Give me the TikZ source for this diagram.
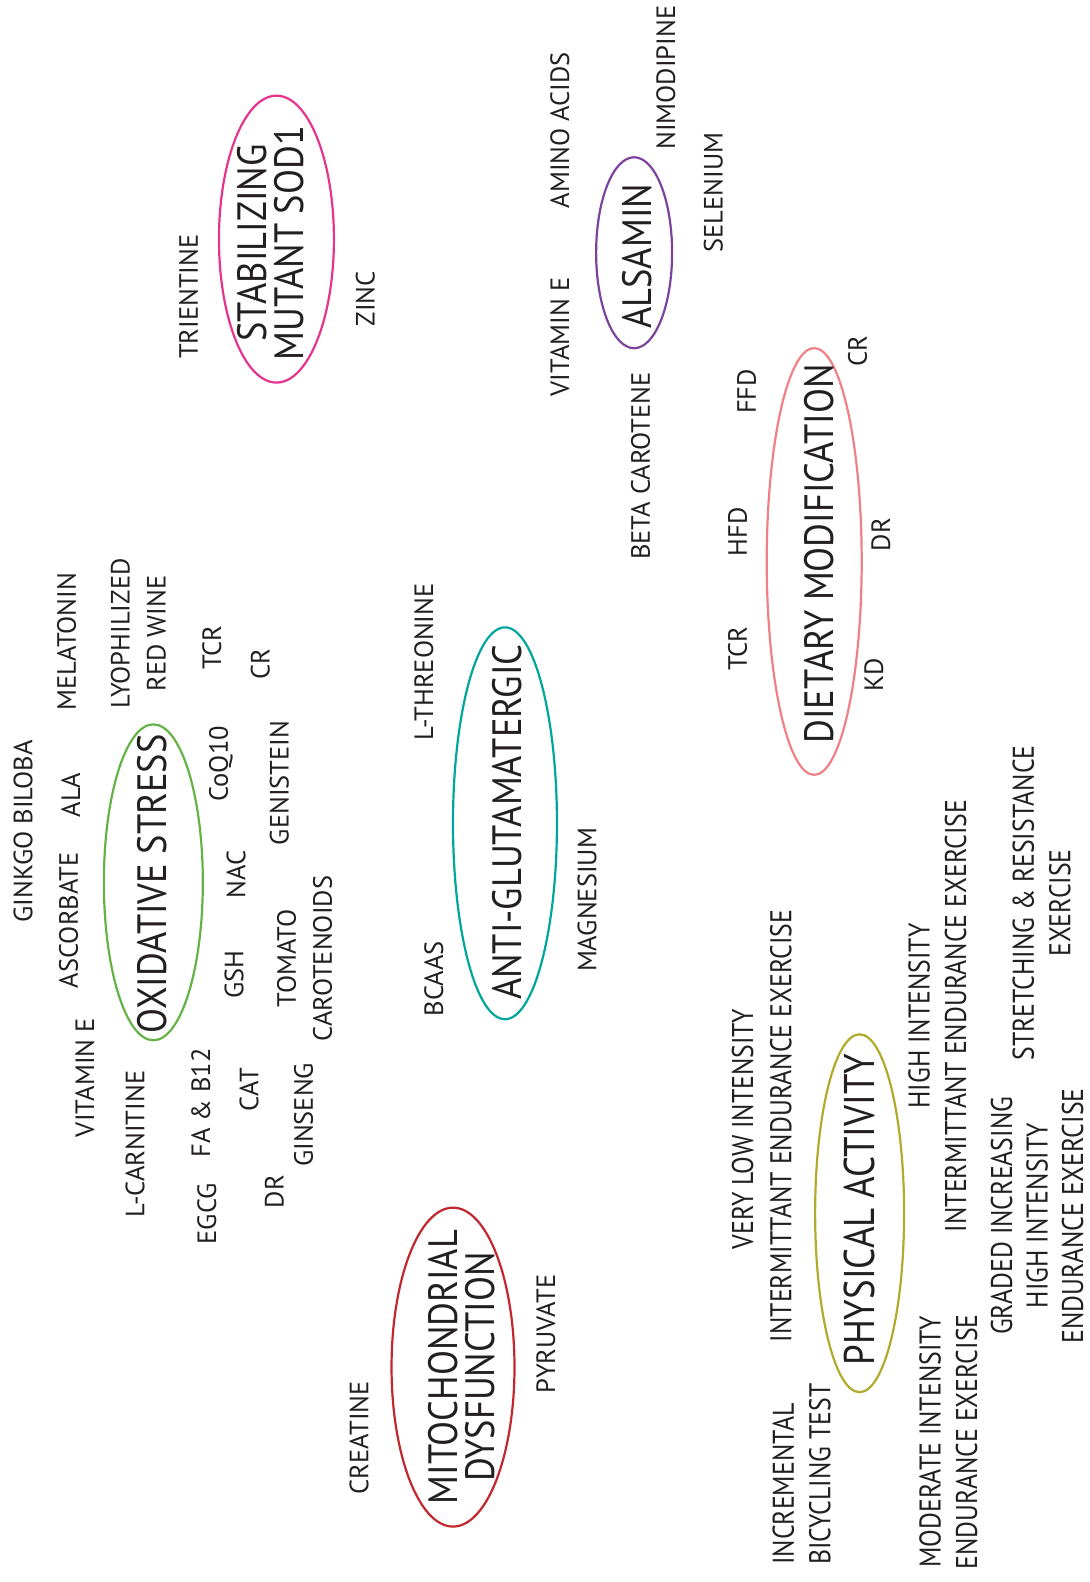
\documentclass[tikz,border=0pt]{standalone}
\usepackage{fontspec}
\setmainfont{PT Sans}
\newfontfamily\hubfont[FakeStretch=0.89]{PT Sans}
\newfontfamily\narrowfont[FakeStretch=0.86]{PT Sans}
\usetikzlibrary{shapes.geometric}
\definecolor{ink}{RGB}{35,31,32}
\definecolor{oxigreen}{RGB}{101,178,70}
\definecolor{mitored}{RGB}{193,39,45}
\definecolor{gluteal}{RGB}{0,166,156}
\definecolor{sodpink}{RGB}{229,52,143}
\definecolor{alspurple}{RGB}{124,66,157}
\definecolor{dietsalmon}{RGB}{240,128,134}
\definecolor{physolive}{RGB}{176,170,45}

\begin{document}
\begin{tikzpicture}[x=1.00926pt,y=-1.00926pt,
	lbl/.style={rotate=90,inner sep=0pt,text=ink,align=center,font=\fontsize{26.5}{36}\selectfont},
	hub/.style={rotate=90,inner sep=0pt,text=ink,align=center,font=\hubfont\fontsize{41}{37}\selectfont},
	plbl/.style={lbl,font=\narrowfont\fontsize{30}{36.5}\selectfont},
	phub/.style={hub,font=\narrowfont\fontsize{43}{40}\selectfont},
	ring/.style={ellipse,draw=#1,line width=2.2pt,inner sep=0pt}]
	\useasboundingbox (0,0) rectangle (1080,1568);

	\node[ring=oxigreen,minimum width=99pt,minimum height=316pt] (oxiring) at (152,874.5) {};
	\node[ring=mitored,minimum width=123pt,minimum height=319pt] (mitoring) at (449,1355) {};
	\node[ring=gluteal,minimum width=104pt,minimum height=392pt] (glutring) at (500.5,816) {};
	\node[ring=sodpink,minimum width=115pt,minimum height=287pt] (sodring) at (274,237) {};
	\node[ring=alspurple,minimum width=76pt,minimum height=191pt] (alsring) at (628.5,250.5) {};
	\node[ring=dietsalmon,minimum width=95pt,minimum height=427pt] (dietring) at (807,556.5) {};
	\node[ring=physolive,minimum width=89pt,minimum height=358pt] (physring) at (852,1202.5) {};

	\node[hub] (oxi) at (151,876) {OXIDATIVE STRESS};
	\node[hub] (mito) at (458,1355) {MITOCHONDRIAL\\DYSFUNCTION};
	\node[hub] (glut) at (502.5,815) {ANTI-GLUTAMATERGIC};
	\node[hub] (sod) at (268.5,241) {STABILIZING\\MUTANT SOD1};
	\node[hub] (als) at (631.5,254) {ALSAMIN};
	\node[hub] (diet) at (811.5,549) {DIETARY MODIFICATION};
	\node[phub] (phys) at (851.5,1199) {PHYSICAL ACTIVITY};

	\node[lbl] (ginkgo) at (23,824) {GINKGO BILOBA};
	\node[lbl] (ascorbate) at (68,912) {ASCORBATE};
	\node[lbl] (ala) at (70,788) {ALA};
	\node[lbl] (melatonin) at (66,636) {MELATONIN};
	\node[lbl] (redwine) at (137,628) {LYOPHILIZED\\RED WINE};
	\node[lbl] (tcrox) at (210,642) {TCR};
	\node[lbl] (crox) at (258,658) {CR};
	\node[lbl] (coq) at (219,757) {CoQ10};
	\node[lbl] (genistein) at (277,776) {GENISTEIN};
	\node[lbl] (nac) at (234,867) {NAC};
	\node[lbl] (gsh) at (232,966) {GSH};
	\node[lbl] (tomato) at (302,950) {TOMATO\\CAROTENOIDS};
	\node[lbl] (vitox) at (84,1068) {VITAMIN E};
	\node[lbl] (carnitine) at (134,1134) {L-CARNITINE};
	\node[lbl] (fab) at (199,1093) {FA \& B12};
	\node[lbl] (cat) at (247,1080) {CAT};
	\node[lbl] (egcg) at (205,1203) {EGCG};
	\node[lbl] (drox) at (272,1181) {DR};
	\node[lbl] (ginseng) at (301,1105) {GINSENG};

	\node[lbl] (creatine) at (356,1425) {CREATINE};
	\node[lbl] (pyruvate) at (541,1322) {PYRUVATE};

	\node[lbl] (threonine) at (420,656) {L-THREONINE};
	\node[lbl] (bcaas) at (430,970) {BCAAS};
	\node[lbl] (magnesium) at (582,892) {MAGNESIUM};

	\node[lbl] (trientine) at (187,294) {TRIENTINE};
	\node[lbl] (zinc) at (362,296) {ZINC};

	\node[lbl] (amino) at (555,129) {AMINO ACIDS};
	\node[lbl] (nimodipine) at (660,77) {NIMODIPINE};
	\node[lbl] (selenium) at (707,191) {SELENIUM};
	\node[lbl] (vitals) at (555,334) {VITAMIN E};
	\node[lbl] (betacar) at (635,462) {BETA CAROTENE};

	\node[lbl] (ffd) at (740,388) {FFD};
	\node[lbl] (crdiet) at (850,348) {CR};
	\node[lbl] (hfd) at (731,527) {HFD};
	\node[lbl] (tcrdiet) at (731,643) {TCR};
	\node[lbl] (drdiet) at (873,530) {DR};
	\node[lbl] (kd) at (866,669) {KD};

	\node[plbl] (verylow) at (736,1119) {VERY LOW INTENSITY};
	\node[plbl] (intermit) at (774,1116) {INTERMITTANT ENDURANCE EXERCISE};
	\node[plbl,align=left] (bicycling) at (794.5,1461) {INCREMENTAL\\BICYCLING TEST};
	\node[plbl] (highint) at (929,1007) {HIGH INTENSITY\\INTERMITTANT ENDURANCE EXERCISE};
	\node[plbl] (stretch) at (1032.5,895) {STRETCHING \& RESISTANCE\\EXERCISE};
	\node[plbl] (moderate) at (940,1429) {MODERATE INTENSITY\\ENDURANCE EXERCISE};
	\node[plbl,font=\narrowfont\fontsize{30}{35.5}\selectfont] (graded) at (1028,1205) {GRADED INCREASING\\HIGH INTENSITY\\ENDURANCE EXERCISE};
\end{tikzpicture}
\end{document}
